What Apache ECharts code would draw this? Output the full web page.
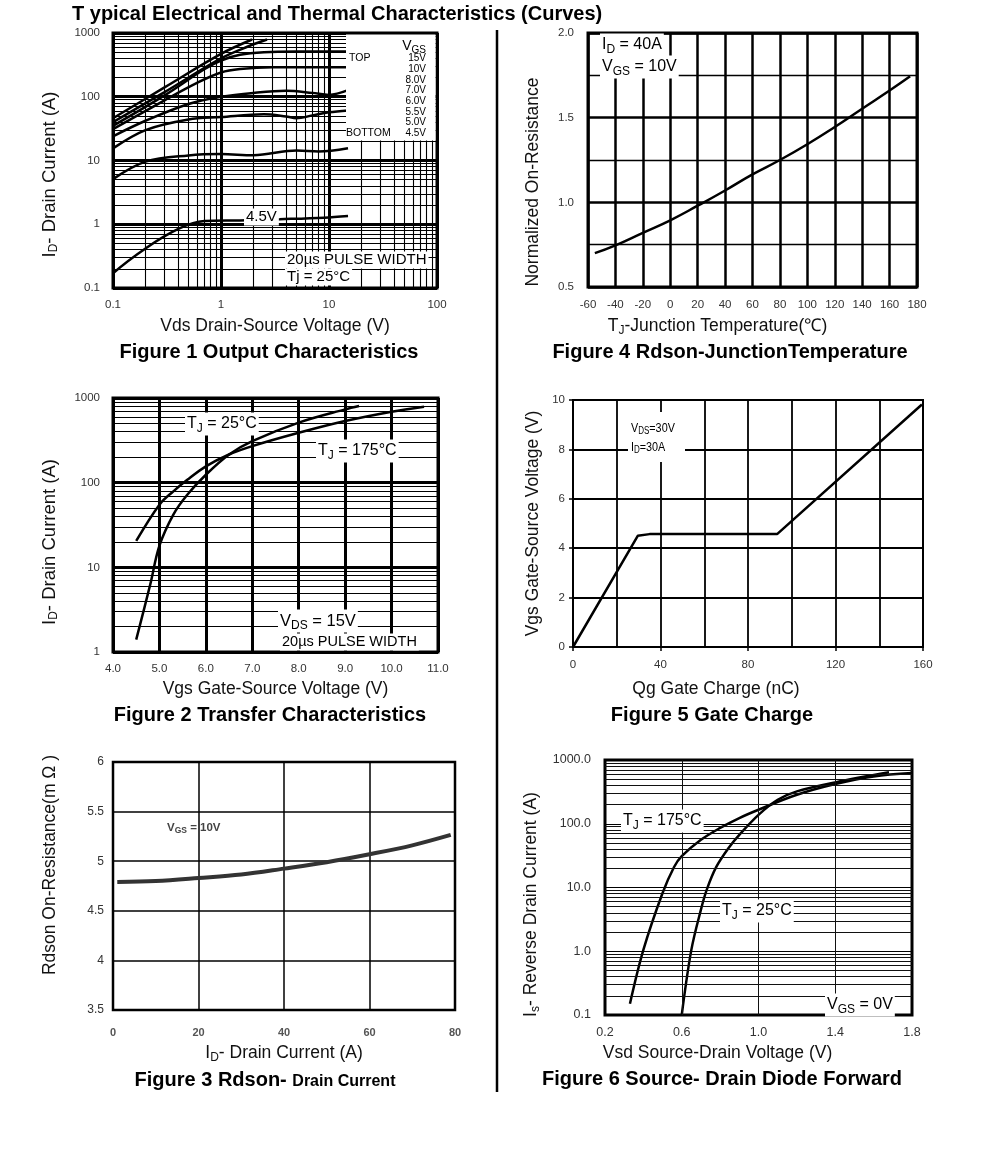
<!DOCTYPE html>
<html><head><meta charset="utf-8">
<script src="https://cdn.jsdelivr.net/npm/echarts@6/dist/echarts.min.js"></script>
<style>html,body{margin:0;padding:0;background:#fff}#c{width:991px;height:1160px}</style>
</head><body><div id="c"></div>
<script>
// ---------- Figure 1: Output characteristics [Vds (V), Id (A)] ----------
const f1_15V = [[0.1,46],[0.3,140],[1,470],[1.94,790]];
const f1_10V = [[0.1,40],[0.3,118],[1,400],[1.8,620],[2.67,790]];
const f1_8V  = [[0.1,35],[0.3,105],[0.7,270],[1,370],[1.5,455],[2.5,500],[5,512],[15,512]];
const f1_7V  = [[0.1,31],[0.3,88],[0.6,165],[1,240],[1.5,272],[3,290],[15,290]];
const f1_6V  = [[0.1,24],[0.2,42],[0.5,77],[1,100],[2,115],[4,124],[7,115],[10,107],[15,127]];
const f1_55V = [[0.1,15.5],[0.2,30],[0.5,44],[1,48],[2.5,53],[4,49],[5,46],[7,51],[10,57],[15,61]];
const f1_5V  = [[0.1,5.1],[0.2,9.6],[0.5,12],[1,12.6],[2,12.1],[5,14.4],[8,13.9],[15,15.6]];
const f1_45V = [[0.1,0.17],[0.7,1.12],[1.5,1.15],[3.5,1.2],[9,1.27],[15,1.35]];
const f1Legend = ['15V','10V','8.0V','7.0V','6.0V','5.5V','5.0V'];

// ---------- Figure 2: Transfer characteristics [Vgs (V), Id (A)] ----------
const f2_25C  = [[4.5,1.4],[4.8,6.2],[5.0,18],[5.3,42],[5.6,72],[6.0,124],[6.5,215],[7.0,309],[8.0,512],[9.0,734],[9.3,804]];
const f2_175C = [[4.5,20.5],[5.0,55],[5.3,79],[5.6,108],[6.0,156],[6.5,215],[7.0,270],[8.0,388],[9.0,534],[10.0,688],[10.7,789]];

// ---------- Figure 3: Rdson vs drain current [Id (A), Rdson (mOhm)] ----------
const f3_rdson = [[1,4.79],[10,4.80],[20,4.83],[30,4.865],[40,4.925],[50,4.99],[60,5.07],[70,5.16],[79,5.265]];

// ---------- Figure 4: Normalized Rdson vs Tj [Tj (C), ratio] ----------
const f4_norm = [[-55,0.70],[-40,0.746],[-20,0.82],[0,0.894],[20,0.98],[40,1.07],[60,1.165],[80,1.25],[100,1.343],[120,1.445],[140,1.553],[160,1.66],[175,1.744]];

// ---------- Figure 5: Gate charge [Qg (nC), Vgs (V)] ----------
const f5_gate = [[0,0],[29.6,4.5],[35,4.57],[93.3,4.57],[159.5,9.82]];

// ---------- Figure 6: Body diode forward [Vsd (V), Is (A)] ----------
const f6_175C = [[0.33,0.15],[0.4,1.05],[0.5,8.2],[0.56,21],[0.6,31],[0.7,56],[0.8,86],[0.9,123],[1.0,166],[1.2,285],[1.4,420],[1.6,553],[1.8,625]];
const f6_25C  = [[0.6,0.1],[0.65,1.05],[0.7,4.5],[0.73,9.2],[0.78,21],[0.85,44],[0.9,67],[1.0,138],[1.1,238],[1.2,322],[1.4,446],[1.68,640]];
const f6XLabels = ['0.2','0.6','1.0','1.4','1.8'];
const f6VLines = [0.6, 1.0, 1.4];

// minor grid positions for log axes (2..9 in each decade)
function decadeMinors(lo, hi) {
  const out = [];
  for (let e = lo; e < hi; e++) for (let m = 2; m <= 9; m++) out.push(+(m * Math.pow(10, e)).toPrecision(3));
  return out;
}
const f1MinorX = decadeMinors(-1, 2);
const f1MinorY = decadeMinors(-1, 3);
const f2MinorY = decadeMinors(0, 3);
const f6MinorY = decadeMinors(-1, 3);

const FF = 'Liberation Sans';
const chart = echarts.init(document.getElementById('c'));

function nameStyle(pad, fs) {
  fs = fs || 17.5;
  return {fontSize: fs, color: '#111', fontFamily: FF, padding: pad || 0,
    rich: {s: {fontSize: 12, fontFamily: FF, color: '#111', padding: [9,0,0,0]}}};
}
function lbl(o) { return Object.assign({fontSize: 11.5, color: '#333', fontFamily: FF}, o || {}); }
function sl(w, c) { return {show: true, lineStyle: {color: c || '#000', width: w, type: 'solid'}}; }
const logFmt = v => String(+(+v).toPrecision(6));

function curve(gi, data, extra) {
  return Object.assign({type: 'line', xAxisIndex: gi, yAxisIndex: gi, data: data, smooth: 0.35,
    showSymbol: false, symbol: 'none', silent: true, z: 3, animation: false,
    lineStyle: {color: '#000', width: 2.5}}, extra || {});
}
function gridLines(gi, xs, ys, w, color) {
  const d = [];
  xs.forEach(v => d.push({xAxis: v}));
  ys.forEach(v => d.push({yAxis: v}));
  return {type: 'line', xAxisIndex: gi, yAxisIndex: gi, data: [], silent: true, z: 1, animation: false,
    markLine: {symbol: ['none','none'], silent: true, animation: false, label: {show: false},
      lineStyle: {color: color || '#000', width: w, type: 'solid'}, emphasis: {disabled: true}, data: d}};
}

function txt(x, y, text, o) {
  o = o || {};
  const fs = o.fs || 16;
  const st = {x: 0, y: 0, text: text, fontSize: fs, fontFamily: FF, fontWeight: o.fw || 'normal',
    fill: o.color || '#000', textAlign: o.align || 'left', verticalAlign: 'middle', textVerticalAlign: 'middle',
    rich: o.rich || {s: {fontSize: Math.round(fs * 0.72), fontFamily: FF, fill: o.color || '#000', padding: [Math.round(fs*0.55),0,0,0]}}};
  if (o.bg) { st.backgroundColor = '#fff'; st.padding = [1, 2]; }
  return {type: 'text', z: 100, x: x, y: y, scaleX: o.sx || 1, style: st};
}

const grids = [
  {left: 113, top: 33,  width: 324, height: 255, bw: 3},   // 0 Fig1
  {left: 588, top: 33,  width: 329, height: 254, bw: 3},   // 1 Fig4
  {left: 113, top: 398, width: 325, height: 254, bw: 3},   // 2 Fig2
  {left: 573, top: 400, width: 350, height: 247, bw: 2},   // 3 Fig5
  {left: 113, top: 762, width: 342, height: 248, bw: 2.5}, // 4 Fig3
  {left: 605, top: 760, width: 307, height: 255, bw: 3}    // 5 Fig6
];

const base = {axisLine: {show: false}, axisTick: {show: false}, nameLocation: 'middle'};

const option = {
  backgroundColor: '#fff',
  animation: false,
  textStyle: {fontFamily: FF},
  grid: grids.map(g => ({left: g.left, top: g.top, width: g.width, height: g.height, show: true,
    borderColor: '#000', borderWidth: g.bw, backgroundColor: 'transparent', containLabel: false})),
  xAxis: [
    Object.assign({}, base, {gridIndex: 0, type: 'log', logBase: 10, min: 0.1, max: 100,
      axisLabel: lbl({margin: 11, formatter: logFmt}), splitLine: sl(3),
      name: 'Vds Drain-Source Voltage (V)', nameGap: 29, nameTextStyle: nameStyle()}),
    Object.assign({}, base, {gridIndex: 1, type: 'value', min: -60, max: 180, interval: 20,
      axisLabel: lbl({margin: 12}), splitLine: sl(2.5),
      name: 'T{s|J}-Junction Temperature(℃)', nameGap: 29, nameTextStyle: nameStyle([0,70,0,0])}),
    Object.assign({}, base, {gridIndex: 2, type: 'value', min: 4, max: 11, interval: 1,
      axisLabel: lbl({margin: 11, formatter: v => v.toFixed(1)}), splitLine: sl(3),
      name: 'Vgs Gate-Source Voltage (V)', nameGap: 28, nameTextStyle: nameStyle()}),
    Object.assign({}, base, {gridIndex: 3, type: 'value', min: 0, max: 160, interval: 40,
      axisTick: {show: true, inside: false, length: 4, lineStyle: {color: '#000', width: 1.5}},
      axisLabel: lbl({margin: 12, fontSize: 11.5}), splitLine: sl(1.8),
      minorTick: {show: false, splitNumber: 2}, minorSplitLine: {show: true, lineStyle: {color: '#000', width: 1.8}},
      name: 'Qg Gate Charge (nC)', nameGap: 33, nameTextStyle: nameStyle([0,64,0,0])}),
    Object.assign({}, base, {gridIndex: 4, type: 'value', min: 0, max: 80, interval: 20,
      axisLabel: lbl({margin: 17, fontWeight: 'bold', color: '#555', fontSize: 11}), splitLine: sl(1.5),
      name: 'I{s|D}- Drain Current (A)', nameGap: 33, nameTextStyle: nameStyle()}),
    Object.assign({}, base, {gridIndex: 5, type: 'value', min: 0.2, max: 1.8, interval: 0.2,
      axisLabel: lbl({margin: 11, fontSize: 12.5, formatter: v => { const s = v.toFixed(1); return f6XLabels.indexOf(s) >= 0 ? s : ''; }}),
      splitLine: {show: false},
      name: 'Vsd Source-Drain Voltage (V)', nameGap: 29, nameTextStyle: nameStyle([0,82,0,0])})
  ],
  yAxis: [
    Object.assign({}, base, {gridIndex: 0, type: 'log', logBase: 10, min: 0.1, max: 1000,
      axisLabel: lbl({margin: 13, formatter: logFmt}), splitLine: sl(3),
      name: 'I{s|D}- Drain Current (A)', nameGap: 53, nameTextStyle: nameStyle([0,28,0,0], 18.5)}),
    Object.assign({}, base, {gridIndex: 1, type: 'value', min: 0.5, max: 2.0, interval: 0.5,
      axisLabel: lbl({margin: 14, formatter: v => v.toFixed(1)}), splitLine: sl(2.5),
      minorTick: {show: false, splitNumber: 2}, minorSplitLine: {show: true, lineStyle: {color: '#000', width: 1.3}},
      name: 'Normalized On-Resistance', nameGap: 46, nameTextStyle: nameStyle([0,44,0,0])}),
    Object.assign({}, base, {gridIndex: 2, type: 'log', logBase: 10, min: 1, max: 1000,
      axisLabel: lbl({margin: 13, formatter: logFmt}), splitLine: sl(3),
      name: 'I{s|D}- Drain Current (A)', nameGap: 53, nameTextStyle: nameStyle([0,34,0,0], 18.5)}),
    Object.assign({}, base, {gridIndex: 3, type: 'value', min: 0, max: 10, interval: 2,
      axisTick: {show: true, inside: false, length: 4, lineStyle: {color: '#000', width: 1.5}},
      axisLabel: lbl({margin: 8, fontSize: 11.5}), splitLine: sl(1.8),
      name: 'Vgs Gate-Source Voltage (V)', nameGap: 31, nameTextStyle: nameStyle()}),
    Object.assign({}, base, {gridIndex: 4, type: 'value', min: 3.5, max: 6, interval: 0.5,
      axisLabel: lbl({margin: 9, fontSize: 12}), splitLine: sl(1.5),
      name: 'Rdson On-Resistance(m Ω )', nameGap: 54, nameTextStyle: nameStyle([0,0,0,42])}),
    Object.assign({}, base, {gridIndex: 5, type: 'log', logBase: 10, min: 0.1, max: 1000,
      axisLabel: lbl({margin: 14, fontSize: 12.5, formatter: v => (+v).toFixed(1)}), splitLine: sl(1.2),
      name: 'I{s|s}- Reverse Drain Current (A)', nameGap: 63, nameTextStyle: nameStyle([0,34,0,0])})
  ],
  series: [
    // Fig1
    gridLines(0, f1MinorX, f1MinorY, 1.1),
    curve(0, f1_15V), curve(0, f1_10V), curve(0, f1_8V), curve(0, f1_7V),
    curve(0, f1_6V), curve(0, f1_55V), curve(0, f1_5V), curve(0, f1_45V),
    // Fig4
    curve(1, f4_norm, {smooth: 0.5}),
    // Fig2
    gridLines(2, [], f2MinorY, 1),
    curve(2, f2_25C), curve(2, f2_175C),
    // Fig5
    curve(3, f5_gate, {smooth: false}),
    // Fig3
    curve(4, f3_rdson, {lineStyle: {color: '#333', width: 4}}),
    // Fig6
    gridLines(5, f6VLines, f6MinorY, 1, '#111'),
    curve(5, f6_175C), curve(5, f6_25C)
  ],
  graphic: {elements: [].concat(
    [
      txt(72, 14, 'T ypical Electrical and Thermal Characteristics (Curves)', {fs: 20, fw: 'bold'}),
      {type: 'line', z: 100, shape: {x1: 497, y1: 30, x2: 497, y2: 1092}, style: {stroke: '#000', lineWidth: 2.5}},
      // captions
      txt(269, 352, 'Figure 1 Output Characteristics', {fs: 20, fw: 'bold', align: 'center'}),
      txt(730, 352, 'Figure 4 Rdson-JunctionTemperature', {fs: 20, fw: 'bold', align: 'center'}),
      txt(270, 715, 'Figure 2 Transfer Characteristics', {fs: 20, fw: 'bold', align: 'center'}),
      txt(712, 715, 'Figure 5 Gate Charge', {fs: 20, fw: 'bold', align: 'center'}),
      txt(265, 1080, '{b|Figure 3 Rdson- }{c|Drain Current}', {fs: 20, fw: 'bold', align: 'center',
        rich: {b: {fontSize: 20, fontWeight: 'bold', fontFamily: FF}, c: {fontSize: 16, fontWeight: 'bold', fontFamily: FF, padding: [3,0,0,0]}}}),
      txt(722, 1079, 'Figure 6 Source- Drain Diode Forward', {fs: 20, fw: 'bold', align: 'center'}),
      // Fig1 legend box
      {type: 'rect', z: 99, shape: {x: 346, y: 34.5, width: 89.5, height: 106}, style: {fill: '#fff'}},
      txt(426, 46, 'V{s|GS}', {fs: 14, align: 'right'}),
      txt(349, 58.5, 'TOP', {fs: 10.5}),
      txt(346, 133.4, 'BOTTOM', {fs: 10.5}),
      txt(426, 133.4, '4.5V', {fs: 10, align: 'right'}),
      // Fig1 labels
      txt(244, 217, '4.5V', {fs: 15, bg: true}),
      txt(285, 260, '20µs PULSE WIDTH', {fs: 15, bg: true}),
      txt(285, 277, 'Tj = 25°C', {fs: 15, bg: true}),
      // Fig4 labels
      txt(600, 45, 'I{s|D} = 40A', {fs: 16, bg: true}),
      txt(600, 67, 'V{s|GS} = 10V', {fs: 16, bg: true}),
      // Fig2 labels
      txt(185, 424, 'T{s|J} = 25°C', {fs: 16, bg: true}),
      txt(316, 451, 'T{s|J} = 175°C', {fs: 16, bg: true}),
      txt(278, 621, 'V{s|DS} = 15V', {fs: 16.5, bg: true}),
      txt(280, 642, '20µs PULSE WIDTH', {fs: 14.5, bg: true}),
      // Fig5 labels
      {type: 'rect', z: 99, shape: {x: 628, y: 412, width: 57, height: 50}, style: {fill: '#fff'}},
      txt(631, 428, 'V{s|DS}=30V', {fs: 13.5, sx: 0.8}),
      txt(631, 447, 'I{s|D}=30A', {fs: 13.5, sx: 0.8}),
      // Fig3 label
      txt(167, 828, 'V{s|GS} = 10V', {fs: 11.5, fw: 'bold', color: '#444',
        rich: {s: {fontSize: 8.5, fontWeight: 'bold', fontFamily: FF, fill: '#444', padding: [6,0,0,0]}}}),
      // Fig6 labels
      txt(621, 821, 'T{s|J} = 175°C', {fs: 16, bg: true}),
      txt(720, 911, 'T{s|J} = 25°C', {fs: 16, bg: true}),
      txt(825, 1005, 'V{s|GS} = 0V', {fs: 16, bg: true})
    ],
    f1Legend.map((t, i) => txt(426, 58.5 + 10.7 * i, t, {fs: 10, align: 'right'}))
  )}
};
chart.setOption(option);
</script>
</body></html>
